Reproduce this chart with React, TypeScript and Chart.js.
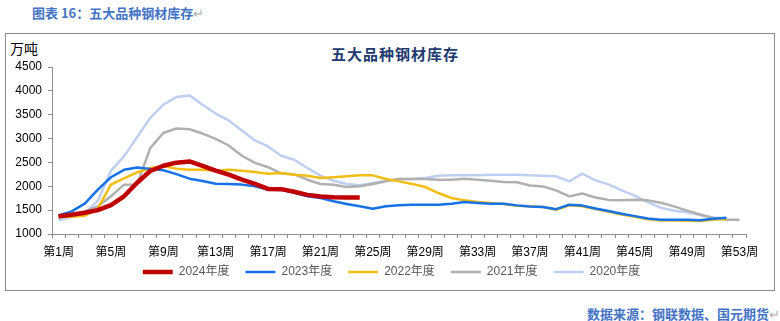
import React, { useEffect, useRef } from 'react';
import { Chart, registerables } from 'chart.js';

Chart.register(...registerables);

const weeks: string[] = Array.from({ length: 53 }, (_, i) => `第${i + 1}周`);

const yMin = 1000;
const yMax = 4500;
const yStep = 500;

const s2024 = [1370, 1405, 1445, 1500, 1605, 1790, 2075, 2320, 2430, 2495, 2520, 2430, 2330, 2245, 2140, 2050, 1945, 1940, 1885, 1820, 1785, 1768, 1765, 1765];

const s2023 = [1390, 1475, 1635, 1930, 2190, 2345, 2395, 2365, 2335, 2255,
  2160, 2110, 2055, 2050, 2035, 2000, 1930, 1930, 1865, 1790,
  1755, 1685, 1630, 1580, 1530, 1580, 1600, 1614, 1614, 1614,
  1635, 1670, 1650, 1635, 1635, 1600, 1575, 1565, 1520, 1614,
  1595, 1535, 1480, 1425, 1375, 1325, 1300, 1300, 1300, 1290, 1320, 1340];

const s2022 = [1356, 1360, 1380, 1530, 2034, 2165, 2290, 2383, 2418, 2370,
  2348, 2348, 2327, 2348, 2327, 2300, 2264, 2279, 2243, 2222,
  2174, 2188, 2208, 2229, 2229, 2153, 2103, 2050, 1985, 1859,
  1755, 1705, 1670, 1650, 1629, 1594, 1579, 1565, 1509, 1600,
  1580, 1525, 1465, 1410, 1360, 1310, 1285, 1285, 1280, 1270, 1300, 1315];

const s2021 = [1340, 1405, 1474, 1579, 1789, 2034, 2040, 2800, 3117, 3210,
  3195, 3105, 2995, 2855, 2640, 2490, 2400, 2270, 2250, 2138,
  2048, 2034, 1985, 1999, 2048, 2103, 2153, 2153, 2153, 2138,
  2138, 2160, 2138, 2118, 2090, 2085, 2015, 1998, 1914, 1789,
  1850, 1765, 1715, 1705, 1720, 1705, 1655, 1579, 1490, 1410, 1335, 1300, 1300];

const s2020 = [1286, 1356, 1440, 1698, 2327, 2627, 3030, 3431, 3710, 3870,
  3905, 3710, 3525, 3380, 3170, 2960, 2836, 2641, 2557, 2383,
  2222, 2117, 2048, 2020, 2069, 2117, 2153, 2153, 2174, 2222,
  2229, 2229, 2229, 2243, 2243, 2243, 2229, 2222, 2208, 2103,
  2264, 2124, 2040, 1915, 1805, 1670, 1550, 1488, 1455, 1395, 1345, 1325];

const seriesNames = ['2024年度', '2023年度', '2022年度', '2021年度', '2020年度'];

const AXIS = '#8c8c8c';
const CJK = "'Liberation Sans', 'Noto Sans CJK SC', sans-serif";

// keeps the legend row just under the category labels
const legendShift = {
  id: 'legendShift',
  beforeDraw(chart: any) {
    const lg = chart.legend;
    if (!lg) return;
    const h = lg.bottom - lg.top;
    lg.top = chart.chartArea.bottom + 16;
    lg.bottom = lg.top + h;
  },
};

export default function App() {
  const ref = useRef<HTMLCanvasElement>(null);

  useEffect(() => {
    const mk = (label: string, data: number[], color: string, w: number) => ({
      label, data, borderColor: color, backgroundColor: color, borderWidth: w,
      pointRadius: 0, pointHoverRadius: 0, tension: 0, fill: false,
      borderJoinStyle: 'round' as const, borderCapStyle: 'butt' as const,
    });
    const chart = new Chart(ref.current!, {
      type: 'line',
      data: {
        labels: weeks,
        datasets: [
          mk(seriesNames[0], s2024, '#C00000', 4.5),
          mk(seriesNames[1], s2023, '#1672E6', 2.5),
          mk(seriesNames[2], s2022, '#F3BE14', 2.5),
          mk(seriesNames[3], s2021, '#B0B0B0', 2.5),
          mk(seriesNames[4], s2020, '#BFCFF2', 2.5),
        ],
      },
      plugins: [legendShift],
      options: {
        animation: false,
        responsive: false,
        maintainAspectRatio: false,
        layout: { padding: { top: 33, left: 0, right: 0, bottom: 0 } },
        plugins: {
          title: { display: false },
          tooltip: { enabled: false },
          legend: {
            display: true,
            position: 'bottom',
            labels: {
              usePointStyle: true,
              pointStyle: 'line',
              pointStyleWidth: 30,
              padding: 16,
              color: '#595959',
              font: { size: 12, family: CJK },
            },
          },
        },
        scales: {
          x: {
            offset: true,
            grid: { offset: true, drawOnChartArea: false, drawTicks: true, tickLength: 4, color: AXIS },
            border: { display: true, color: AXIS, width: 1 },
            ticks: {
              autoSkip: false,
              maxRotation: 0,
              minRotation: 0,
              padding: 7,
              color: '#000',
              font: { size: 12, family: CJK },
              callback: (_v: any, i: number) => (i % 4 === 0 ? weeks[i] : ''),
            },
            afterFit: (s: any) => { s.height = 27; },
          },
          y: {
            type: 'linear',
            min: yMin,
            max: yMax,
            grid: { drawOnChartArea: false, drawTicks: true, tickLength: 4, color: AXIS },
            border: { display: true, color: AXIS, width: 1 },
            ticks: {
              stepSize: yStep,
              padding: 6,
              color: '#000',
              font: { size: 12, family: "'Liberation Sans', Arial, sans-serif" },
              callback: (v: any) => String(v),
            },
            afterFit: (s: any) => { s.width = 46; },
          },
          yR: {
            type: 'linear',
            position: 'right',
            grid: { display: false, drawTicks: false },
            border: { display: false },
            ticks: { display: false },
            afterFit: (s: any) => { s.width = 31; },
          },
        },
      } as any,
    });
    return () => chart.destroy();
  }, []);

  const hdr: React.CSSProperties = {
    position: 'absolute', fontFamily: "'Noto Sans CJK SC', sans-serif", fontWeight: 700,
    fontSize: 13, color: '#4472C4', lineHeight: '18px', whiteSpace: 'nowrap',
  };

  return (
    <div style={{ position: 'absolute', left: 0, top: 0, width: 780, height: 321, background: '#fff', overflow: 'hidden' }}>
      <div style={{ ...hdr, left: 32, top: 4 }}>
        图表 16：五大品种钢材库存<span style={{ color: '#b0b0b0', fontWeight: 400 }}>↵</span>
      </div>
      <div style={{ position: 'absolute', left: 5, top: 33, width: 770, height: 258, boxSizing: 'border-box', border: '1px solid #898989' }} />
      <div style={{ position: 'absolute', left: 10, top: 38, fontFamily: "'Noto Sans CJK SC', sans-serif", fontSize: 14, lineHeight: '20px', color: '#000' }}>万吨</div>
      <div style={{ position: 'absolute', left: 315, width: 160, top: 44, textAlign: 'center', fontFamily: "'Noto Sans CJK SC', sans-serif", fontWeight: 700, fontSize: 15, letterSpacing: 1, lineHeight: '20px', color: '#1F3A70', whiteSpace: 'nowrap' }}>五大品种钢材库存</div>
      <canvas ref={ref} width={771} height={265} style={{ position: 'absolute', left: 6, top: 34, width: 771, height: 265 }} />
      <div style={{ ...hdr, right: 0, top: 305 }}>
        数据来源：钢联数据、国元期货<span style={{ color: '#b0b0b0', fontWeight: 400 }}>↵</span>
      </div>
    </div>
  );
}
